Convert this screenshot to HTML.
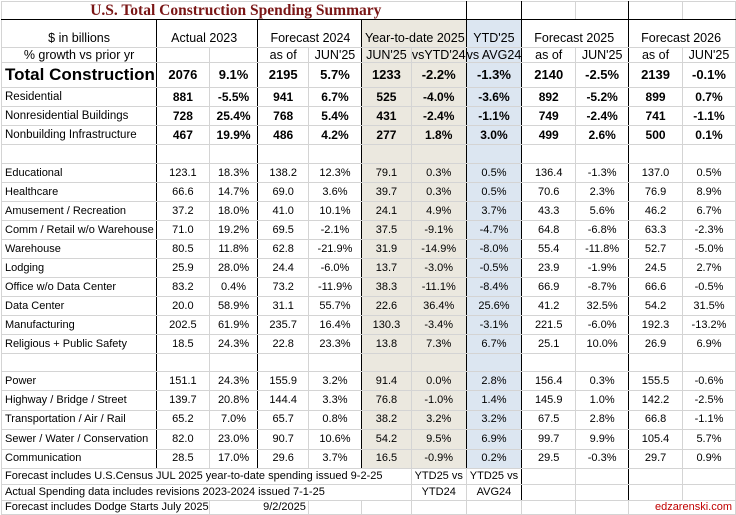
<!DOCTYPE html>
<html><head><meta charset="utf-8"><style>
html,body{margin:0;padding:0;background:#fff;width:736px;height:514px;overflow:hidden}
table{position:absolute;left:1px;top:1px;border-collapse:collapse;table-layout:fixed;font-family:"Liberation Sans",sans-serif;font-size:11px;color:#000}
td{border:1px solid #d4d4d4;padding:0;text-align:center;white-space:nowrap;overflow:hidden;line-height:13px;vertical-align:middle}
td.l{text-align:left;padding-left:3px}
.tb{border-right:1.5px solid #000}
.bg{background:#ebe8df}
.bl{background:#dce6f1}
.bold{font-weight:bold;font-size:12px}
.tot{font-weight:bold;font-size:15px}
.hd{font-size:12.5px}
</style></head><body>
<table id="t" style="border:1.5px solid #000">
<colgroup><col style="width:148px"><col style="width:52px"><col style="width:52px"><col style="width:52px"><col style="width:54px"><col style="width:50px"><col style="width:51px"><col style="width:54px"><col style="width:56px"><col style="width:54px"><col style="width:56px"><col style="width:54px"></colgroup>
<tbody id="tb"></tbody></table>
<script>
const headers1=["$ in billions","Actual 2023","","Forecast 2024","","Year-to-date 2025","","YTD'25","Forecast 2025","","Forecast 2026",""];
const headers2=["% growth vs prior yr","","","as of","JUN'25","JUN'25","vsYTD'24","vs AVG24","as of","JUN'25","as of","JUN'25"];
const categories=["Total Construction","Residential","Nonresidential Buildings","Nonbuilding Infrastructure","","Educational","Healthcare","Amusement / Recreation","Comm / Retail w/o Warehouse","Warehouse","Lodging","Office w/o Data Center","Data Center","Manufacturing","Religious + Public Safety","","Power","Highway / Bridge / Street","Transportation / Air / Rail","Sewer / Water / Conservation","Communication"];
const actual2023=["2076","881","728","467","","123.1","66.6","37.2","71.0","80.5","25.9","83.2","20.0","202.5","18.5","","151.1","139.7","65.2","82.0","28.5"];
const growth2023=["9.1%","-5.5%","25.4%","19.9%","","18.3%","14.7%","18.0%","19.2%","11.8%","28.0%","0.4%","58.9%","61.9%","24.3%","","24.3%","20.8%","7.0%","23.0%","17.0%"];
const fc2024=["2195","941","768","486","","138.2","69.0","41.0","69.5","62.8","24.4","73.2","31.1","235.7","22.8","","155.9","144.4","65.7","90.7","29.6"];
const growth2024=["5.7%","6.7%","5.4%","4.2%","","12.3%","3.6%","10.1%","-2.1%","-21.9%","-6.0%","-11.9%","55.7%","16.4%","23.3%","","3.2%","3.3%","0.8%","10.6%","3.7%"];
const ytd2025=["1233","525","431","277","","79.1","39.7","24.1","37.5","31.9","13.7","38.3","22.6","130.3","13.8","","91.4","76.8","38.2","54.2","16.5"];
const ytdVsYtd=["-2.2%","-4.0%","-2.4%","1.8%","","0.3%","0.3%","4.9%","-9.1%","-14.9%","-3.0%","-11.1%","36.4%","-3.4%","7.3%","","0.0%","-1.0%","3.2%","9.5%","-0.9%"];
const ytdVsAvg=["-1.3%","-3.6%","-1.1%","3.0%","","0.5%","0.5%","3.7%","-4.7%","-8.0%","-0.5%","-8.4%","25.6%","-3.1%","6.7%","","2.8%","1.4%","3.2%","6.9%","0.2%"];
const fc2025=["2140","892","749","499","","136.4","70.6","43.3","64.8","55.4","23.9","66.9","41.2","221.5","25.1","","156.4","145.9","67.5","99.7","29.5"];
const growth2025=["-2.5%","-5.2%","-2.4%","2.6%","","-1.3%","2.3%","5.6%","-6.8%","-11.8%","-1.9%","-8.7%","32.5%","-6.0%","10.0%","","0.3%","1.0%","2.8%","9.9%","-0.3%"];
const fc2026=["2139","899","741","500","","137.0","76.9","46.2","63.3","52.7","24.5","66.6","54.2","192.3","26.9","","155.5","142.2","66.8","105.4","29.7"];
const growth2026=["-0.1%","0.7%","-1.1%","0.1%","","0.5%","8.9%","6.7%","-2.3%","-5.0%","2.7%","-0.5%","31.5%","-13.2%","6.9%","","-0.6%","-2.5%","-1.1%","5.7%","0.9%"];
const rowH=[25,19,19,19,19,19,19,19,19,19,19,19,19,19,19,18,19.4,19.4,19.4,19.4,19.4];
const thick=[0,2,4,6,7,9];
const tb=document.getElementById('tb');
function cellCls(c){let s=[];if(thick.includes(c))s.push('tb');if(c==5||c==6)s.push('bg');if(c==7)s.push('bl');return s.join(' ');}
let tr=document.createElement('tr');tr.style.height='18px';


let td=document.createElement('td');td.colSpan=7;td.className='tb';
td.style.cssText='border-bottom:1.5px solid #000;font-family:"Liberation Serif",serif;font-weight:bold;font-size:15.5px;color:#7a1616;padding-left:4px;line-height:17px';
td.textContent='U.S. Total Construction Spending Summary';


tr.appendChild(td);
for(let c=7;c<12;c++){let d=document.createElement('td');d.className=thick.includes(c)?'tb':'';d.style.borderBottom='1.5px solid #000';tr.appendChild(d);}
tb.appendChild(tr);
[headers1,headers2].forEach((h,i)=>{
 const r=document.createElement('tr');r.style.height=(i?15:28)+'px';
 
 
 for(let c=0;c<12;c++){
  if(i==0&&[1,3,5,8,10].includes(c)){const d=document.createElement('td');d.colSpan=2;d.className='hd '+cellCls(c+1);d.style.verticalAlign='bottom';d.style.paddingBottom='2px';d.style.textAlign='left';d.style.paddingLeft=(c==1?'14px':c==5?'3px':'12px');d.textContent=h[c];r.appendChild(d);c++;continue;}
  const d=document.createElement('td');d.className='hd '+cellCls(c);d.textContent=h[c];
  if(i==0){d.style.verticalAlign='bottom';d.style.paddingBottom='2px';}
  
  
  r.appendChild(d);
 }
 tb.appendChild(r);
});
const cols=[categories,actual2023,growth2023,fc2024,growth2024,ytd2025,ytdVsYtd,ytdVsAvg,fc2025,growth2025,fc2026,growth2026];
categories.forEach((cat,i)=>{
 const r=document.createElement('tr');r.style.height=rowH[i]+'px';
 
 
 for(let c=0;c<12;c++){
  const d=document.createElement('td');
  let cl=cellCls(c);if(i==0)cl+=' tot';else if(i<4)cl+=' bold';
  if(c==0)cl+=' l';
  if(i==0&&c==0)d.style.fontSize='17px';
  if(i>0&&i<4&&c==0){d.style.fontWeight='normal';d.style.fontSize='11.5px';}
  if(i==0&&c>0)d.style.fontSize='13px';
  if(i==0)d.style.lineHeight='18px';
  d.className=cl;d.textContent=cols[c][i];
  
  
  r.appendChild(d);
 }
 tb.appendChild(r);
});
const foot=[["Forecast includes U.S.Census JUL 2025 year-to-date spending issued 9-2-25","YTD25 vs","YTD25 vs"],["Actual Spending data includes revisions 2023-2024 issued 7-1-25","YTD24","AVG24"]];
foot.forEach((f,i)=>{
 const r=document.createElement('tr');r.style.height='16px';
 
 
 let a=document.createElement('td');a.colSpan=6;a.className='l';a.textContent=f[0];if(i==0)a.style.borderTop='1.5px solid #000';
 
 
 r.appendChild(a);
 [f[1],f[2]].forEach((t,k)=>{const d=document.createElement('td');d.textContent=t;d.className=k?'tb':'';if(i==0)d.style.borderTop='1.5px solid #000';r.appendChild(d);});
 for(let c=8;c<12;c++){const d=document.createElement('td');d.className=thick.includes(c)?'tb':'';if(i==0)d.style.borderTop='1.5px solid #000';r.appendChild(d);}
 tb.appendChild(r);
});
const r3=document.createElement('tr');r3.style.height='14px';


let a=document.createElement('td');a.colSpan=2;a.className='l';a.textContent='Forecast includes Dodge Starts July 2025';a.style.overflow='visible';


r3.appendChild(a);
let b=document.createElement('td');b.colSpan=2;b.textContent='9/2/2025';b.style.textAlign='right';b.style.paddingRight='2px';


r3.appendChild(b);
for(let c=4;c<10;c++){const d=document.createElement('td');r3.appendChild(d);}
let e=document.createElement('td');e.colSpan=2;e.textContent='edzarenski.com';e.style.cssText='color:#c00000;text-align:right;padding-right:3px';


r3.appendChild(e);
tb.appendChild(r3);
</script>
</body></html>
